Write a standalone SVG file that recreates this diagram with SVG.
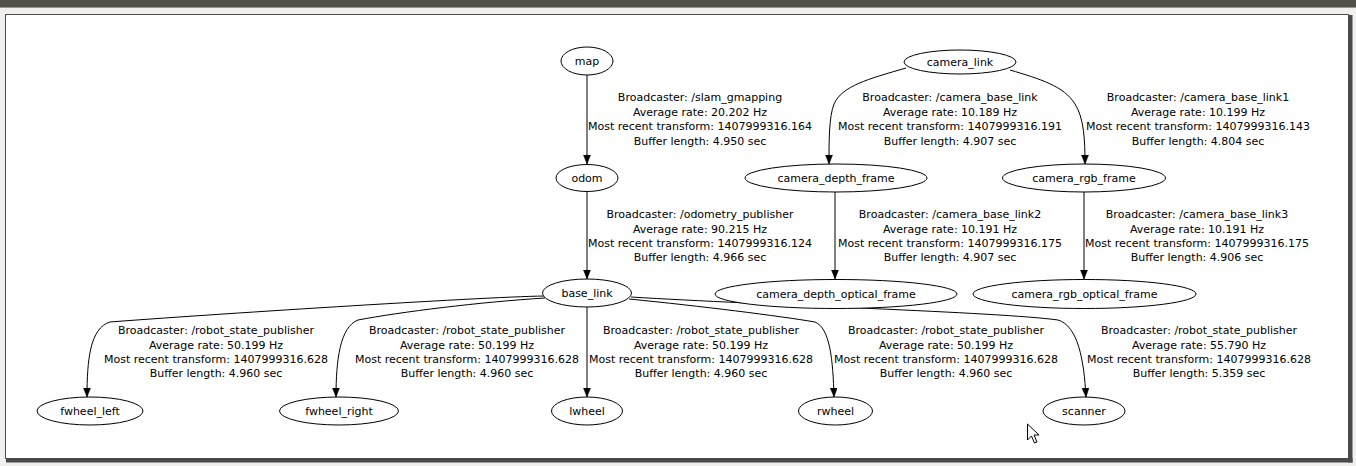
<svg xmlns="http://www.w3.org/2000/svg" width="1356" height="466" viewBox="0 0 1356 466">
<defs>
<style>
text{font-family:"DejaVu Sans","Liberation Sans",sans-serif;font-size:11px;fill:#000;text-anchor:middle}
.n ellipse{fill:#fff;stroke:#000;stroke-width:1}
.e path{fill:none;stroke:#000;stroke-width:1}
</style>
<marker id="ah" markerUnits="userSpaceOnUse" markerWidth="10" markerHeight="8" refX="9" refY="3.5" orient="auto">
<path d="M0,0 L9,3.5 L0,7 z" fill="#000" stroke="#000" stroke-width="0.5"/>
</marker>
</defs>
<rect x="0" y="0" width="1356" height="466" fill="#f1f0ee"/>
<rect x="0" y="0" width="1356" height="7" fill="#54504a"/>
<rect x="0" y="7" width="1356" height="1" fill="#9a968f"/>
<rect x="5.5" y="14.5" width="1343" height="444" fill="#fff" stroke="#4d4d4d" stroke-width="1"/>
<rect x="1348" y="15" width="4.5" height="447.5" fill="#4a4a4a"/>
<rect x="6" y="458" width="1346.5" height="4.5" fill="#4a4a4a"/>

<g id="connectors" class="e">
<path marker-end="url(#ah)" d="M587,75 L587,164"/>
<path marker-end="url(#ah)" d="M587,192 L587,279"/>
<path marker-end="url(#ah)" d="M906,68 C868,79 842,86 834,104 C829,117 829,140 829,164"/>
<path marker-end="url(#ah)" d="M1010,70 C1040,79 1064,86 1075,104 C1084,118 1085,140 1085,164"/>
<path marker-end="url(#ah)" d="M835,192 L835,279"/>
<path marker-end="url(#ah)" d="M1084,192 L1084,279"/>
<path marker-end="url(#ah)" d="M544,296 C480,297 200,315 110,322 C90,328 87,360 87,397"/>
<path marker-end="url(#ah)" d="M545,298 C480,302 400,312 358,320 C340,327 336,360 336,397"/>
<path marker-end="url(#ah)" d="M587,307 L587,397"/>
<path marker-end="url(#ah)" d="M629,299 C700,306 780,316 815,322 C830,328 833,360 834,397"/>
<path marker-end="url(#ah)" d="M631,297 C760,305 1000,312 1058,320 C1078,326 1084,360 1086,397"/>
</g>

<g id="labels">
<text x="700" y="101">Broadcaster: /slam_gmapping</text>
<text x="700" y="115.5">Average rate: 20.202 Hz</text>
<text x="700" y="130">Most recent transform: 1407999316.164</text>
<text x="700" y="144.5">Buffer length: 4.950 sec</text>

<text x="950" y="101">Broadcaster: /camera_base_link</text>
<text x="950" y="115.5">Average rate: 10.189 Hz</text>
<text x="950" y="130">Most recent transform: 1407999316.191</text>
<text x="950" y="144.5">Buffer length: 4.907 sec</text>

<text x="1198" y="101">Broadcaster: /camera_base_link1</text>
<text x="1198" y="115.5">Average rate: 10.199 Hz</text>
<text x="1198" y="130">Most recent transform: 1407999316.143</text>
<text x="1198" y="144.5">Buffer length: 4.804 sec</text>

<text x="700" y="218">Broadcaster: /odometry_publisher</text>
<text x="700" y="232.5">Average rate: 90.215 Hz</text>
<text x="700" y="247">Most recent transform: 1407999316.124</text>
<text x="700" y="261">Buffer length: 4.966 sec</text>

<text x="950" y="218">Broadcaster: /camera_base_link2</text>
<text x="950" y="232.5">Average rate: 10.191 Hz</text>
<text x="950" y="247">Most recent transform: 1407999316.175</text>
<text x="950" y="261">Buffer length: 4.907 sec</text>

<text x="1197" y="218">Broadcaster: /camera_base_link3</text>
<text x="1197" y="232.5">Average rate: 10.191 Hz</text>
<text x="1197" y="247">Most recent transform: 1407999316.175</text>
<text x="1197" y="261">Buffer length: 4.906 sec</text>

<text x="216" y="334">Broadcaster: /robot_state_publisher</text>
<text x="216" y="348.5">Average rate: 50.199 Hz</text>
<text x="216" y="363">Most recent transform: 1407999316.628</text>
<text x="216" y="377">Buffer length: 4.960 sec</text>

<text x="467" y="334">Broadcaster: /robot_state_publisher</text>
<text x="467" y="348.5">Average rate: 50.199 Hz</text>
<text x="467" y="363">Most recent transform: 1407999316.628</text>
<text x="467" y="377">Buffer length: 4.960 sec</text>

<text x="701" y="334">Broadcaster: /robot_state_publisher</text>
<text x="701" y="348.5">Average rate: 50.199 Hz</text>
<text x="701" y="363">Most recent transform: 1407999316.628</text>
<text x="701" y="377">Buffer length: 4.960 sec</text>

<text x="946" y="334">Broadcaster: /robot_state_publisher</text>
<text x="946" y="348.5">Average rate: 50.199 Hz</text>
<text x="946" y="363">Most recent transform: 1407999316.628</text>
<text x="946" y="377">Buffer length: 4.960 sec</text>

<text x="1199" y="334">Broadcaster: /robot_state_publisher</text>
<text x="1199" y="348.5">Average rate: 55.790 Hz</text>
<text x="1199" y="363">Most recent transform: 1407999316.628</text>
<text x="1199" y="377">Buffer length: 5.359 sec</text>
</g>

<g id="map" class="n"><ellipse cx="587" cy="61" rx="26" ry="14"/><text x="587" y="65">map</text></g>
<g id="odom" class="n"><ellipse cx="587" cy="178" rx="31" ry="13.5"/><text x="587" y="182">odom</text></g>
<g id="base_link" class="n"><ellipse cx="587" cy="293" rx="44.5" ry="14"/><text x="587" y="297">base_link</text></g>
<g id="camera_link" class="n"><ellipse cx="960" cy="62" rx="56" ry="12"/><text x="960" y="65.5">camera_link</text></g>
<g id="camera_depth_frame" class="n"><ellipse cx="836" cy="178" rx="91" ry="14"/><text x="836" y="182">camera_depth_frame</text></g>
<g id="camera_rgb_frame" class="n"><ellipse cx="1084" cy="178" rx="81.5" ry="14"/><text x="1084" y="182">camera_rgb_frame</text></g>
<g id="camera_depth_optical_frame" class="n"><ellipse cx="836" cy="294" rx="121" ry="14.5"/><text x="836" y="298">camera_depth_optical_frame</text></g>
<g id="camera_rgb_optical_frame" class="n"><ellipse cx="1084.5" cy="294" rx="111.5" ry="14.5"/><text x="1084.5" y="298">camera_rgb_optical_frame</text></g>
<g id="fwheel_left" class="n"><ellipse cx="90" cy="411" rx="53" ry="14"/><text x="90" y="415">fwheel_left</text></g>
<g id="fwheel_right" class="n"><ellipse cx="339" cy="411" rx="59.5" ry="14"/><text x="339" y="415">fwheel_right</text></g>
<g id="lwheel" class="n"><ellipse cx="587" cy="411" rx="35.5" ry="14"/><text x="587" y="415">lwheel</text></g>
<g id="rwheel" class="n"><ellipse cx="835.5" cy="411" rx="37" ry="14"/><text x="835.5" y="415">rwheel</text></g>
<g id="scanner" class="n"><ellipse cx="1084" cy="411" rx="41" ry="14"/><text x="1084" y="415">scanner</text></g>

<path d="M1027.5,424 L1027.5,440 L1031.5,436 L1034.5,443 L1037,442 L1034,435 L1039,435 Z" fill="#fff" stroke="#000" stroke-width="1" stroke-linejoin="round"/>
</svg>
